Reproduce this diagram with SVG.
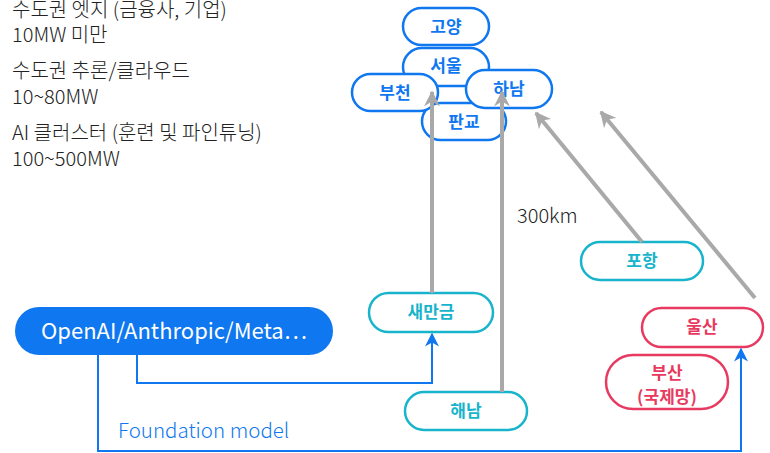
<svg xmlns="http://www.w3.org/2000/svg" width="770" height="453" viewBox="0 0 770 453">
<defs>
<style>
text{font-family:"Noto Sans CJK KR","Noto Sans",sans-serif;}
.lbl{font-size:20px;font-weight:300;fill:#222;}
.nb{fill:#fff;stroke:#0f77f0;stroke-width:2.5;}
.nc{fill:#fff;stroke:#17b4cb;stroke-width:2.5;}
.nr{fill:#fff;stroke:#e83a60;stroke-width:2.5;}
.tb{font-size:17px;font-weight:700;fill:#0f77f0;text-anchor:middle;}
.tc{font-size:17px;font-weight:700;fill:#17b4cb;text-anchor:middle;}
.tr{font-size:17px;font-weight:700;fill:#e83a60;text-anchor:middle;}
.g{stroke:#a9a9a9;stroke-width:4;fill:none;}
.bl{stroke:#0f77f0;stroke-width:2;fill:none;}
</style>
<marker id="ag" viewBox="0 0 10 10" refX="9" refY="5" markerWidth="4" markerHeight="4" orient="auto" markerUnits="strokeWidth">
<path d="M0,0 L10,5 L0,10 L3,5 Z" fill="#a9a9a9"/>
</marker>
<marker id="ab" viewBox="0 0 10 10" refX="9" refY="5" markerWidth="7" markerHeight="7" orient="auto" markerUnits="strokeWidth">
<path d="M0,0 L10,5 L0,10 L3,5 Z" fill="#0f77f0"/>
</marker>
</defs>
<g id="legend">
<text class="lbl" x="12" y="17">수도권 엣지 (금융사, 기업)</text>
<text class="lbl" x="12" y="42">10MW 미만</text>
<text class="lbl" x="12" y="78">수도권 추론/클라우드</text>
<text class="lbl" x="12" y="104">10~80MW</text>
<text class="lbl" x="12" y="140">AI 클러스터 (훈련 및 파인튜닝)</text>
<text class="lbl" x="12" y="166">100~500MW</text>
</g>
<g id="n-goyang"><rect class="nb" x="403" y="8" width="86" height="37" rx="18.5"/><text class="tb" x="446" y="33">고양</text></g>
<g id="n-seoul"><rect class="nb" x="403" y="48" width="86" height="38" rx="19"/><text class="tb" x="446" y="72">서울</text></g>
<g id="n-pangyo"><rect class="nb" x="422" y="103" width="84" height="37" rx="18.5"/><text class="tb" x="464" y="128">판교</text></g>
<g id="n-bucheon"><rect class="nb" x="352" y="74" width="86" height="37" rx="18.5"/><text class="tb" x="395" y="99">부천</text></g>
<g id="n-hanam"><rect class="nb" x="466" y="70" width="86" height="38" rx="19"/><text class="tb" x="509" y="95">하남</text></g>
<g id="n-pohang"><rect class="nc" x="581" y="242" width="122" height="38" rx="19"/><text class="tc" x="642" y="267">포항</text></g>
<g id="n-saemangeum"><rect class="nc" x="369" y="293" width="124" height="39" rx="19.5"/><text class="tc" x="431" y="318">새만금</text></g>
<g id="n-haenam"><rect class="nc" x="405" y="392" width="122" height="38" rx="19"/><text class="tc" x="466" y="417">해남</text></g>
<g id="n-ulsan"><rect class="nr" x="642" y="308" width="121" height="39" rx="19.5"/><text class="tr" x="702" y="333">울산</text></g>
<g id="n-busan"><rect class="nr" x="606" y="355" width="122" height="54" rx="27"/><text class="tr" x="667" y="379">부산</text><text class="tr" x="667" y="403">(국제망)</text></g>
<g id="n-openai"><rect x="15" y="307" width="318" height="48" rx="24" fill="#0f77f0"/><text x="174" y="339" font-size="22" fill="#fff" text-anchor="middle">OpenAI/Anthropic/Meta…</text></g>
<g id="connectors">
<line class="g" x1="432" y1="293" x2="432" y2="92" marker-end="url(#ag)"/>
<line class="g" x1="502" y1="392" x2="502" y2="92" marker-end="url(#ag)"/>
<line class="g" x1="642" y1="242" x2="536" y2="113" marker-end="url(#ag)"/>
<line class="g" x1="755" y1="298" x2="601" y2="112" marker-end="url(#ag)"/>
<polyline class="bl" points="137,355 137,383 432,383 432,334" marker-end="url(#ab)"/>
<polyline class="bl" points="98,355 98,451 741,451 741,349" marker-end="url(#ab)"/>
</g>
<text class="lbl" x="517" y="223" font-size="21">300km</text>
<text x="118" y="438" font-size="20.5" font-weight="300" fill="#0f77f0">Foundation model</text>
</svg>
